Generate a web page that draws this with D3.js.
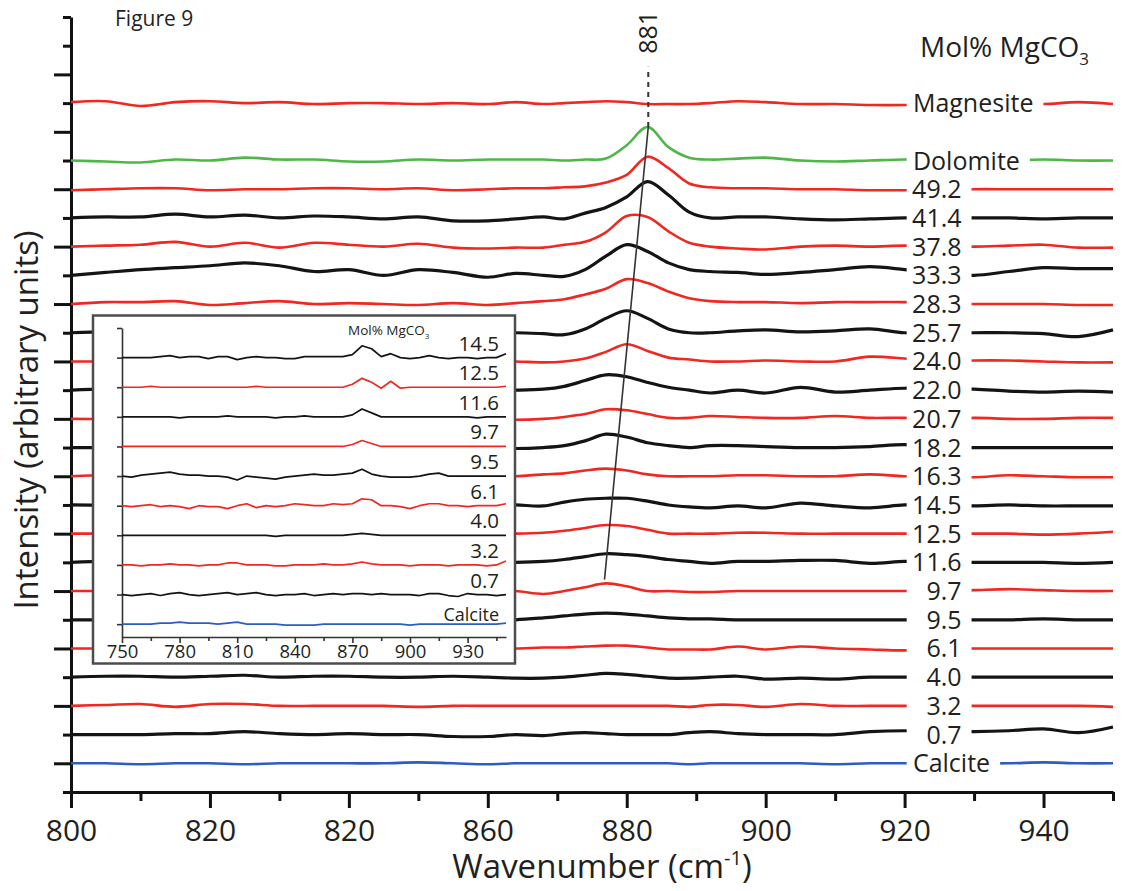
<!DOCTYPE html>
<html>
<head>
<meta charset="utf-8">
<script src="https://cdn.jsdelivr.net/npm/d3@7"></script>
<style>
  body { margin: 0; background: #fff; }
  svg text { font-family: "Open Sans", sans-serif; fill: #231f20; }
</style>
</head>
<body>
<svg id="fig" width="1129" height="891"></svg>
<script>
// ---------- main panel data (intensity in arbitrary units, relative to each trace's offset) ----------
const wavenumbers = [800,805,810,815,820,825,830,835,840,845,850,855,860,864,868,871,874,877,880,883,886,889,892,896,900,905,910,915,920,925,930,935,940,945,950];

const calcite   = [0,0,-1,0,0,-1,0,0,0,0,1,0,-1,0,0,0,0,0,0,0,0,-1,0,0,0,0,-1,0,0,0,0,0,1,0,0];
const mol07     = [0,0,0,1,1,3,1,0,1,0,0,-2,-2,0,-1,1,2,1,0,0,0,2,3,1,0,0,0,3,4,3,3,4,6,2,8];
const mol32     = [0,1,2,-1,2,2,0,0,0,0,-1,0,0,0,0,0,0,0,0,0,0,-1,1,1,-1,2,0,0,0,0,0,0,0,0,-1];
const mol40     = [0,1,1,0,1,2,0,1,1,0,0,1,0,-1,-1,0,2,4,3,1,-1,-1,0,1,-2,-1,-2,0,0,0,0,0,0,0,0];
const mol61     = [0,0,0,0,1,0,0,0,0,-1,0,0,0, 0,1,1,2,3,3,1,-1,-1,-1,2,-1,2,0,-1,-2,0,0,0,0,0,0];
const mol95     = [0,0,0,0,0,0,0,0,1,0,0,0,0, 0,2,4,6,7,6,4,2,1,1,0,0,0,0,0,0,0,0,0,1,0,0];
const mol97     = [0,0,0,0,1,0,0,0,0,0,-1,0,0, 0,-3,0,4,8,5,0,0,-1,-1,0,0,0,0,0,0,0,1,2,1,0,0];
const mol116    = [0,1,0,0,0,-1,0,0,0,1,0,0,0, 0,1,3,6,9,8,6,3,1,-1,1,1,2,2,-1,1,1,0,0,0,-1,0];
const mol125    = [0,0,0,1,0,0,0,0,-1,0,0,0,0, 0,1,3,6,9,8,4,0,0,0,1,1,0,0,0,0,0,0,0,-1,0,2];
const mol145    = [0,0,1,0,0,0,-1,0,0,0,0,1,0, 0,-1,3,6,7,7,4,0,-2,-3,-1,-3,2,-1,-3,0,0,-1,0,-1,-1,-1];
const mol163    = [0,1,0,0,0,0,1,0,0,-1,0,0,0, 0,2,3,6,8,6,2,0,0,0,1,1,0,0,2,0,0,-1,1,0,-1,-1];
const mol182    = [0,0,0,1,0,0,-1,0,0,0,1,0,0, -1,0,2,7,14,11,5,2,0,2,2,1,0,0,1,3,0,0,0,0,0,0];
const mol207    = [0,0,1,0,0,-1,0,1,0,0,0,1,0, -1,0,2,5,10,9,5,1,1,3,2,1,1,3,1,1,-1,1,0,0,1,1];
const mol220    = [0,1,0,0,1,0,-1,0,0,1,0,0,0, 0,1,4,10,16,14,8,3,0,-3,0,-3,3,-2,0,2,1,1,-1,-2,-1,-2];
const mol240    = [0,0,1,0,-1,0,0,1,0,0,-1,0,0, 0,-1,0,3,10,18,11,4,2,0,0,1,0,0,5,3,0,1,1,0,-1,-1];
const mol257    = [0,1,0,-1,0,1,0,0,1,0,0,-1,0,0,-1,-2,4,15,23,15,4,0,0,2,3,1,2,4,0,0,0,0,-1,-4,3];
const mol283    = [0,2,2,3,-1,1,3,0,1,0,-1,1,-1,1,3,5,10,16,26,22,13,6,3,2,2,1,2,2,2,0,0,0,0,-1,-1];
const mol333    = [0,3,6,8,10,13,10,4,6,0,6,3,-2,2,0,-1,6,20,32,25,13,6,4,3,1,3,6,9,6,2,0,4,8,7,7];
const mol378    = [0,1,2,5,0,4,-1,4,2,0,3,-1,-2,-1,-1,2,5,15,32,31,16,4,0,-2,-3,0,1,0,1,0,0,1,2,-1,-1];
const mol414    = [0,1,1,4,1,3,0,2,1,-1,1,-3,-3,-1,1,-1,5,11,22,38,24,6,0,1,1,-1,-2,-1,0,0,0,0,-1,0,0];
const mol492    = [-1,0,1,1,-1,0,0,1,1,0,1,-1,0,1,1,2,3,7,15,34,22,6,2,1,1,0,0,-1,-1,-1,0,0,0,0,0];
const dolomite  = [0,-1,-2,1,0,3,1,1,-1,-1,1,0,1,1,1,0,1,2,16,35,14,3,1,2,3,0,-1,0,1,1,0,0,1,0,0];
const magnesite = [1,2,-3,1,2,0,1,-1,0,0,-1,0,-1,1,-1,0,1,2,1,-1,-1,-1,0,2,1,-1,-1,-2,-2,-1,-1,0,-1,1,-1];

const mainNames   = ["Calcite","0.7","3.2","4.0","6.1","9.5","9.7","11.6","12.5","14.5","16.3","18.2","20.7","22.0","24.0","25.7","28.3","33.3","37.8","41.4","49.2","Dolomite","Magnesite"];
const mainLevels  = [1,2,3,4,5,6,7,8,9,10,11,12,13,14,15,16,17,18,19,20,21,22,24];
const mainSpectra = [calcite,mol07,mol32,mol40,mol61,mol95,mol97,mol116,mol125,mol145,mol163,mol182,mol207,mol220,mol240,mol257,mol283,mol333,mol378,mol414,mol492,dolomite,magnesite];

const xTickLabels = ["800","820","820","860","880","900","920","940"];
const peakTrend = [[883.1, 695], [876.8, 222]];
const peakMark = { text: "881", wn: 883.1, low: 695, high: 758 };

// ---------- inset data ----------
const insetWavenumbers = [750,755,760,765,770,775,780,785,790,795,800,805,810,815,820,825,830,835,840,845,850,855,860,865,870,875,880,885,890,895,900,905,910,915,920,925,930,935,940,945,950];
const inCalcite = [0,0,0,0,1,1,2,1,1,1,0,1,2,0,0,0,0,-1,-1,-1,-1,0,0,0,0,0,0,0,0,0,-1,0,0,0,0,0,0,0,0,0,1];
const in07  = [0,-1,0,1,-1,1,2,0,-1,0,1,2,0,1,2,0,-1,0,0,1,-1,0,1,0,1,1,0,1,0,0,0,-1,1,1,-1,-2,1,0,0,-1,0];
const in32  = [0,0,-1,0,0,1,0,0,-1,0,0,2,2,0,0,0,-1,-1,0,0,0,1,0,0,1,3,1,0,0,0,-1,0,0,0,-1,0,0,0,-1,0,4];
const in40  = [0,0,0,0,0,0,0,0,0,0,0,0,0,0,0,0,-1,0,0,0,0,0,0,0,1,2,1,0,0,0,0,0,0,0,0,0,0,0,0,0,0];
const in61  = [0,-1,0,1,-1,0,-1,-3,0,-1,-1,-3,0,2,-2,0,-1,0,2,1,0,0,2,1,2,7,6,0,0,-1,-3,0,2,2,0,0,-1,0,0,0,2];
const in95  = [0,-1,1,2,3,4,2,1,1,0,0,-1,-4,0,-1,-2,-3,-1,0,1,2,1,1,2,3,7,2,0,-1,-1,-1,0,2,3,0,0,0,0,0,0,0];
const in97  = [0,0,0,0,0,0,0,0,0,0,0,0,0,0,0,0,0,0,0,0,0,0,0,0,2,6,3,0,0,0,0,0,0,0,0,0,0,0,0,0,0];
const in116 = [0,0,0,0,0,0,-1,0,0,0,0,1,0,0,0,0,-1,0,0,1,0,0,0,0,2,8,4,0,0,0,0,0,0,0,0,0,0,-1,0,0,0];
const in125 = [0,0,0,1,0,0,0,0,0,0,0,0,0,0,1,0,0,0,0,0,0,0,0,0,3,9,5,-1,6,-1,0,0,0,0,0,0,0,0,0,0,1];
const in145 = [0,0,0,0,1,2,0,1,1,-1,1,1,-2,0,1,0,0,-1,-1,1,1,1,1,1,3,12,9,1,4,0,-1,0,2,0,-1,0,0,-1,0,0,4];

const insetNames   = ["Calcite","0.7","3.2","4.0","6.1","9.5","9.7","11.6","12.5","14.5"];
const insetSpectra = [inCalcite,in07,in32,in40,in61,in95,in97,in116,in125,in145];
const insetTickLabels = ["750","780","810","840","870","900","930"];

// ---------- drawing ----------
const W = 1129, H = 891, step = 30;
const RED = "#f0281f", BLACK = "#141414", GREEN = "#4db848", BLUE = "#2f5cbf";
const colourOf = (name, i) => name === "Calcite" ? BLUE : name === "Dolomite" ? GREEN
  : name === "Magnesite" ? RED : (i % 2 ? BLACK : RED);

const svg = d3.select("#fig");
const x = d3.scaleLinear().domain([800, 950]).range([71, 1113]);
const y = d3.scaleLinear().domain([0, 810]).range([792, 17]);

// y axis with alternating tick lengths
const yAxis = svg.append("g")
  .attr("transform", "translate(" + x(800) + ",0)")
  .call(d3.axisLeft(y).tickValues(d3.range(0, 811, step)).tickSizeOuter(0).tickFormat(""));
yAxis.selectAll(".tick line").attr("x2", (d, i) => (i % 2 && i < 27) ? -17 : -8);
yAxis.selectAll("line, path").attr("stroke", "#111").attr("stroke-width", 3);

// x axis
const xAxis = svg.append("g")
  .attr("transform", "translate(0," + y(0) + ")")
  .call(d3.axisBottom(x).tickValues(d3.range(800, 951, 10)).tickSizeOuter(0)
    .tickFormat(d => d % 20 === 0 ? xTickLabels[(d - 800) / 20] : ""));
xAxis.selectAll(".tick line").attr("y2", d => d % 20 === 0 ? 16 : 9);
xAxis.selectAll("line, path").attr("stroke", "#111").attr("stroke-width", 3);
xAxis.selectAll(".tick text").attr("y", 49).attr("dy", null)
  .attr("fill", "#231f20").style("font-size", "30px").style("font-family", '"Open Sans", sans-serif');

svg.append("text")
  .attr("x", 602).attr("y", 878).attr("text-anchor", "middle").style("font-size", "33px")
  .html('Wavenumber (cm<tspan dy="-13" style="font-size:20px">-1</tspan><tspan dy="13">)</tspan>');

svg.append("text")
  .attr("transform", "translate(38," + 420 + ") rotate(-90)")
  .attr("text-anchor", "middle").style("font-size", "33px")
  .text("Intensity (arbitrary units)");

svg.append("text").attr("x", 115).attr("y", 26).style("font-size", "21px").text("Figure 9");

svg.append("text").attr("x", 920).attr("y", 57).style("font-size", "28px")
  .html('Mol% MgCO<tspan dy="8" style="font-size:17px">3</tspan>');

// traces with a gap for the right-hand labels
const defs = svg.append("defs");
const gTraces = svg.append("g");
const gLabels = svg.append("g");
const gapStart = x(920.3);

const mainLine = (vals, base) => d3.line()
  .x((d, i) => x(wavenumbers[i]))
  .y(d => y(base + d))
  .curve(d3.curveCatmullRom.alpha(0.5))(vals);

mainNames.forEach((name, i) => {
  const base = mainLevels[i] * step;
  const isWord = isNaN(+name);
  const label = gLabels.append("text")
    .attr("x", isWord ? x(921.2) : x(928.2))
    .attr("y", y(base) + 9)
    .attr("text-anchor", isWord ? "start" : "end")
    .style("font-size", "25px")
    .text(name);
  const bb = label.node().getBBox();
  const cp = defs.append("clipPath").attr("id", "gap" + i);
  cp.append("rect").attr("x", 0).attr("y", 0).attr("width", gapStart).attr("height", H);
  cp.append("rect").attr("x", bb.x + bb.width + 10).attr("y", 0).attr("width", W).attr("height", H);

  gTraces.append("path")
    .attr("d", mainLine(mainSpectra[i], base))
    .attr("clip-path", "url(#gap" + i + ")")
    .attr("fill", "none")
    .attr("stroke", colourOf(name, i))
    .attr("stroke-width", colourOf(name, i) === BLACK ? 3.2 : 2.6)
    .attr("stroke-linejoin", "round");
});

// peak shift guide and 881 marker
svg.append("line")
  .attr("x1", x(peakTrend[0][0])).attr("y1", y(peakTrend[0][1]))
  .attr("x2", x(peakTrend[1][0])).attr("y2", y(peakTrend[1][1]))
  .attr("stroke", "#333").attr("stroke-width", 1.6);
svg.append("line")
  .attr("x1", x(peakMark.wn)).attr("y1", y(peakMark.low))
  .attr("x2", x(peakMark.wn)).attr("y2", y(peakMark.high))
  .attr("stroke", "#333").attr("stroke-width", 2).attr("stroke-dasharray", "5,5");
svg.append("text")
  .attr("transform", "translate(" + (x(peakMark.wn) + 9) + "," + (y(peakMark.high) - 13) + ") rotate(-90)")
  .style("font-size", "25px").text(peakMark.text);

// ---------- inset ----------
const ix = d3.scaleLinear().domain([750, 950]).range([122, 506]);
const iy = d3.scaleLinear().domain([-13, 300]).range([637, 328]);
const inset = svg.append("g");
inset.append("rect")
  .attr("x", 93).attr("y", 315.5).attr("width", 422).attr("height", 348)
  .attr("fill", "#fff").attr("stroke", "#4d4d4d").attr("stroke-width", 2.5);

const iyAxis = inset.append("g").attr("transform", "translate(" + ix(750) + ",0)")
  .call(d3.axisLeft(iy).tickValues(d3.range(0, 301, step)).tickSize(5).tickSizeOuter(0).tickFormat(""));
const ixAxis = inset.append("g").attr("transform", "translate(0," + iy(-13) + ")")
  .call(d3.axisBottom(ix).tickValues(d3.range(750, 950, 15)).tickSizeOuter(0)
    .tickFormat(d => (d - 750) % 30 === 0 ? insetTickLabels[(d - 750) / 30] : ""));
ixAxis.selectAll(".tick line").attr("y2", d => (d - 750) % 30 === 0 ? 6 : 4);
inset.selectAll("line, path").filter(function () { return this.parentNode !== inset.node(); })
  .attr("stroke", "#333").attr("stroke-width", 1.6);
ixAxis.selectAll(".tick text").attr("y", 21).attr("dy", null)
  .attr("fill", "#333").style("font-size", "18.5px").style("font-family", '"Open Sans", sans-serif');

inset.append("text").attr("x", 348).attr("y", 335).style("font-size", "13.5px").attr("fill", "#333")
  .html('Mol% MgCO<tspan dy="4" style="font-size:8px">3</tspan>');

const insetLine = (vals, base) => d3.line()
  .x((d, i) => ix(insetWavenumbers[i]))
  .y(d => iy(base + d))
  .curve(d3.curveLinear)(vals);

insetNames.forEach((name, i) => {
  const base = i * step;
  inset.append("path")
    .attr("d", insetLine(insetSpectra[i], base))
    .attr("fill", "none")
    .attr("stroke", colourOf(name, i))
    .attr("stroke-width", 1.7)
    .attr("stroke-linejoin", "round");
  inset.append("text")
    .attr("x", 499)
    .attr("y", iy(base) - (name === "Calcite" ? 3 : 7))
    .attr("text-anchor", "end")
    .style("font-size", name === "Calcite" ? "18px" : "20.5px")
    .text(name);
});
</script>
</body>
</html>
